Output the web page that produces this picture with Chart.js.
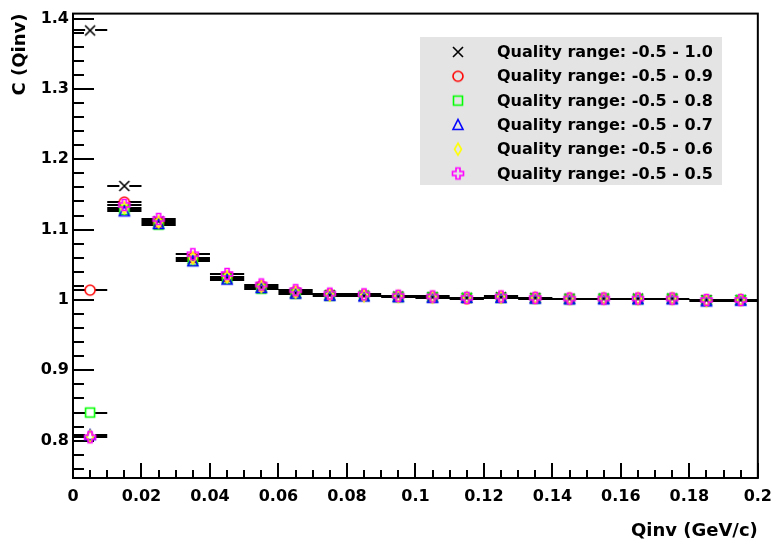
<!DOCTYPE html>
<html>
<head>
<meta charset="utf-8">
<script src="https://cdn.jsdelivr.net/npm/chart.js@4/dist/chart.umd.min.js"></script>
<style>
html,body{margin:0;padding:0;background:#fff;}
#wrap{width:781px;height:542px;position:relative;}
</style>
</head>
<body>
<div id="wrap"><canvas id="c" width="781" height="542"></canvas></div>
<script>
// ---------------- data ----------------
const qinv = [0.005,0.015,0.025,0.035,0.045,0.055,0.065,0.075,0.085,0.095,
              0.105,0.115,0.125,0.135,0.145,0.155,0.165,0.175,0.185,0.195];
const binHalfWidth = 0.005;

const seriesLabels = [
  'Quality range: -0.5 - 1.0',
  'Quality range: -0.5 - 0.9',
  'Quality range: -0.5 - 0.8',
  'Quality range: -0.5 - 0.7',
  'Quality range: -0.5 - 0.6',
  'Quality range: -0.5 - 0.5'
];

const cQ10 = [1.383,1.162,1.112,1.058,1.032,1.018,1.010,1.007,1.006,1.005,
              1.004,1.003,1.004,1.003,1.002,1.002,1.002,1.002,1.000,1.000];
const cQ09 = [1.014,1.139,1.110,1.060,1.033,1.020,1.012,1.008,1.007,1.005,
              1.004,1.002,1.004,1.003,1.002,1.002,1.002,1.002,0.999,1.000];
const cQ08 = [0.840,1.128,1.107,1.056,1.030,1.016,1.009,1.006,1.006,1.004,
              1.004,1.003,1.003,1.002,1.001,1.002,1.001,1.002,0.999,1.000];
const cQ07 = [0.808,1.126,1.108,1.055,1.029,1.017,1.009,1.006,1.005,1.004,
              1.003,1.003,1.003,1.002,1.001,1.001,1.001,1.001,0.998,0.999];
const cQ06 = [0.806,1.131,1.111,1.060,1.033,1.019,1.011,1.007,1.006,1.005,
              1.004,1.003,1.004,1.003,1.002,1.002,1.002,1.002,0.999,1.000];
const cQ05 = [0.805,1.135,1.115,1.065,1.037,1.022,1.014,1.009,1.008,1.006,
              1.005,1.003,1.005,1.003,1.002,1.002,1.002,1.002,1.000,1.000];

const xTickValues = [0,0.02,0.04,0.06,0.08,0.1,0.12,0.14,0.16,0.18,0.2];
const xTickLabels = ['0','0.02','0.04','0.06','0.08','0.1','0.12','0.14','0.16','0.18','0.2'];
const yTickValues = [0.8,0.9,1.0,1.1,1.2,1.3,1.4];
const yTickLabels = ['0.8','0.9','1','1.1','1.2','1.3','1.4'];

const xTitle = 'Qinv (GeV/c)';
const yTitle = 'C (Qinv)';

// ---------------- styles ----------------
const FONT = 'DejaVu Sans';
const colors = ['#000000','#ff0000','#00ff00','#0000ff','#ffff00','#ff00ff'];
const shapes = ['x','circle','square','triangle','diamond','cross'];

function makeMarker(shape, color){
  const cv = document.createElement('canvas');
  cv.width = 16; cv.height = 16;
  const g = cv.getContext('2d');
  g.strokeStyle = color; g.lineWidth = 1.6;
  g.beginPath();
  const c = 8;
  if (shape === 'x'){
    g.moveTo(c-5,c-5); g.lineTo(c+5,c+5);
    g.moveTo(c+5,c-5); g.lineTo(c-5,c+5);
  } else if (shape === 'circle'){
    g.arc(c,c,5,0,Math.PI*2);
  } else if (shape === 'square'){
    g.rect(c-4.5,c-4.5,9,9);
  } else if (shape === 'triangle'){
    g.moveTo(c,c-5.5); g.lineTo(c+5,c+4.5); g.lineTo(c-5,c+4.5); g.closePath();
  } else if (shape === 'diamond'){
    g.moveTo(c,c-6); g.lineTo(c+3.5,c); g.lineTo(c,c+6); g.lineTo(c-3.5,c); g.closePath();
  } else if (shape === 'cross'){
    const a = 2, b = 5.5;
    g.moveTo(c-a,c-b); g.lineTo(c+a,c-b); g.lineTo(c+a,c-a); g.lineTo(c+b,c-a);
    g.lineTo(c+b,c+a); g.lineTo(c+a,c+a); g.lineTo(c+a,c+b); g.lineTo(c-a,c+b);
    g.lineTo(c-a,c+a); g.lineTo(c-b,c+a); g.lineTo(c-b,c-a); g.lineTo(c-a,c-a); g.closePath();
  }
  g.stroke();
  return cv;
}
const markers = shapes.map((s,i)=>makeMarker(s, colors[i]));

const seriesValues = [cQ10,cQ09,cQ08,cQ07,cQ06,cQ05];
const datasets = seriesValues.map((arr, i) => ({
  label: seriesLabels[i],
  data: qinv.map((x, j) => ({x: x, y: arr[j]})),
  pointStyle: markers[i],
  pointRadius: 5,
  borderColor: colors[i],
  backgroundColor: 'rgba(0,0,0,0)',
  showLine: false,
  order: seriesValues.length - 1 - i
}));

// ---------------- plugins ----------------
const rootStyle = {
  id: 'rootStyle',
  beforeDraw(chart){
    const ctx = chart.ctx;
    ctx.save(); ctx.fillStyle = '#fff'; ctx.fillRect(0,0,chart.width,chart.height); ctx.restore();
  },
  beforeDatasetsDraw(chart){
    const ctx = chart.ctx, ca = chart.chartArea;
    const xs = chart.scales.x, ys = chart.scales.y;
    ctx.save();
    ctx.strokeStyle = '#000';
    ctx.lineWidth = 2;
    // frame
    ctx.strokeRect(ca.left, ca.top, ca.right - ca.left, ca.bottom - ca.top);
    // x ticks (inward)
    ctx.beginPath();
    for (let k = 0; k <= 40; k++){
      const px = Math.round(xs.getPixelForValue(k*0.005));
      const len = (k % 4 === 0) ? 15 : 8;
      ctx.moveTo(px, ca.bottom); ctx.lineTo(px, ca.bottom - len);
    }
    // y ticks (inward)
    for (let k = 38; k <= 70; k++){
      const py = Math.round(ys.getPixelForValue(k*0.02));
      const len = (k % 5 === 0) ? 21 : 11;
      ctx.moveTo(ca.left, py); ctx.lineTo(ca.left + len, py);
    }
    ctx.stroke();
    // horizontal error bars (bin widths)
    ctx.lineWidth = 2;
    ctx.beginPath();
    chart.data.datasets.forEach((ds, di) => {
      const meta = chart.getDatasetMeta(di);
      meta.data.forEach((el, j) => {
        const x1 = xs.getPixelForValue(qinv[j] - binHalfWidth);
        const x2 = xs.getPixelForValue(qinv[j] + binHalfWidth);
        const y = Math.round(el.y);
        const gap = 5;
        ctx.moveTo(x1, y); ctx.lineTo(el.x - gap, y);
        ctx.moveTo(el.x + gap, y); ctx.lineTo(x2, y);
      });
    });
    ctx.stroke();
    ctx.restore();
  },
  afterDraw(chart){
    const ctx = chart.ctx;
    ctx.save();
    // legend box
    const bx = 420, by = 37, bw = 302, bh = 148;
    ctx.fillStyle = '#e4e4e4';
    ctx.fillRect(bx, by, bw, bh);
    ctx.font = 'bold 16px "' + FONT + '"';
    ctx.fillStyle = '#000';
    ctx.textBaseline = 'middle';
    ctx.textAlign = 'left';
    chart.data.datasets.forEach((ds, i) => {
      const y = by + 15 + i * 24.3;
      const m = ds.pointStyle;
      ctx.drawImage(m, 458 - m.width/2, y - m.height/2);
      ctx.fillText(ds.label, 497, y + 1);
    });
    ctx.restore();
  }
};

const tickFont = {family: FONT, size: 16, weight: 'bold'};
const titleFont = {family: FONT, size: 18, weight: 'bold'};

new Chart(document.getElementById('c'), {
  type: 'scatter',
  data: { datasets: datasets },
  options: {
    responsive: false,
    animation: false,
    events: [],
    layout: { autoPadding: false, padding: {left: 0, top: 7, right: 17, bottom: 0} },
    plugins: { legend: {display: false}, tooltip: {enabled: false} },
    scales: {
      x: {
        type: 'linear', min: 0, max: 0.2,
        afterBuildTicks: s => { s.ticks = xTickValues.map(v => ({value: v})); },
        afterFit: s => { s.height = 64; },
        grid: {display: false, drawTicks: false, tickLength: 0},
        border: {display: false},
        ticks: {
          autoSkip: false, maxRotation: 0, minRotation: 0,
          padding: 9, color: '#000', font: tickFont,
          callback: (v, i) => xTickLabels[i]
        },
        title: {display: true, text: xTitle, align: 'end', color: '#000', font: titleFont, padding: 0}
      },
      y: {
        type: 'linear', min: 0.747, max: 1.407,
        afterBuildTicks: s => { s.ticks = yTickValues.map(v => ({value: v})); },
        afterFit: s => { s.width = 73; },
        grid: {display: false, drawTicks: false, tickLength: 0},
        border: {display: false},
        ticks: {
          autoSkip: false, padding: 4, color: '#000', font: tickFont,
          callback: (v, i) => yTickLabels[i]
        },
        title: {display: true, text: yTitle, align: 'end', color: '#000', font: titleFont, padding: {top: 10, bottom: 0}}
      }
    }
  },
  plugins: [rootStyle]
});
</script>
</body>
</html>
